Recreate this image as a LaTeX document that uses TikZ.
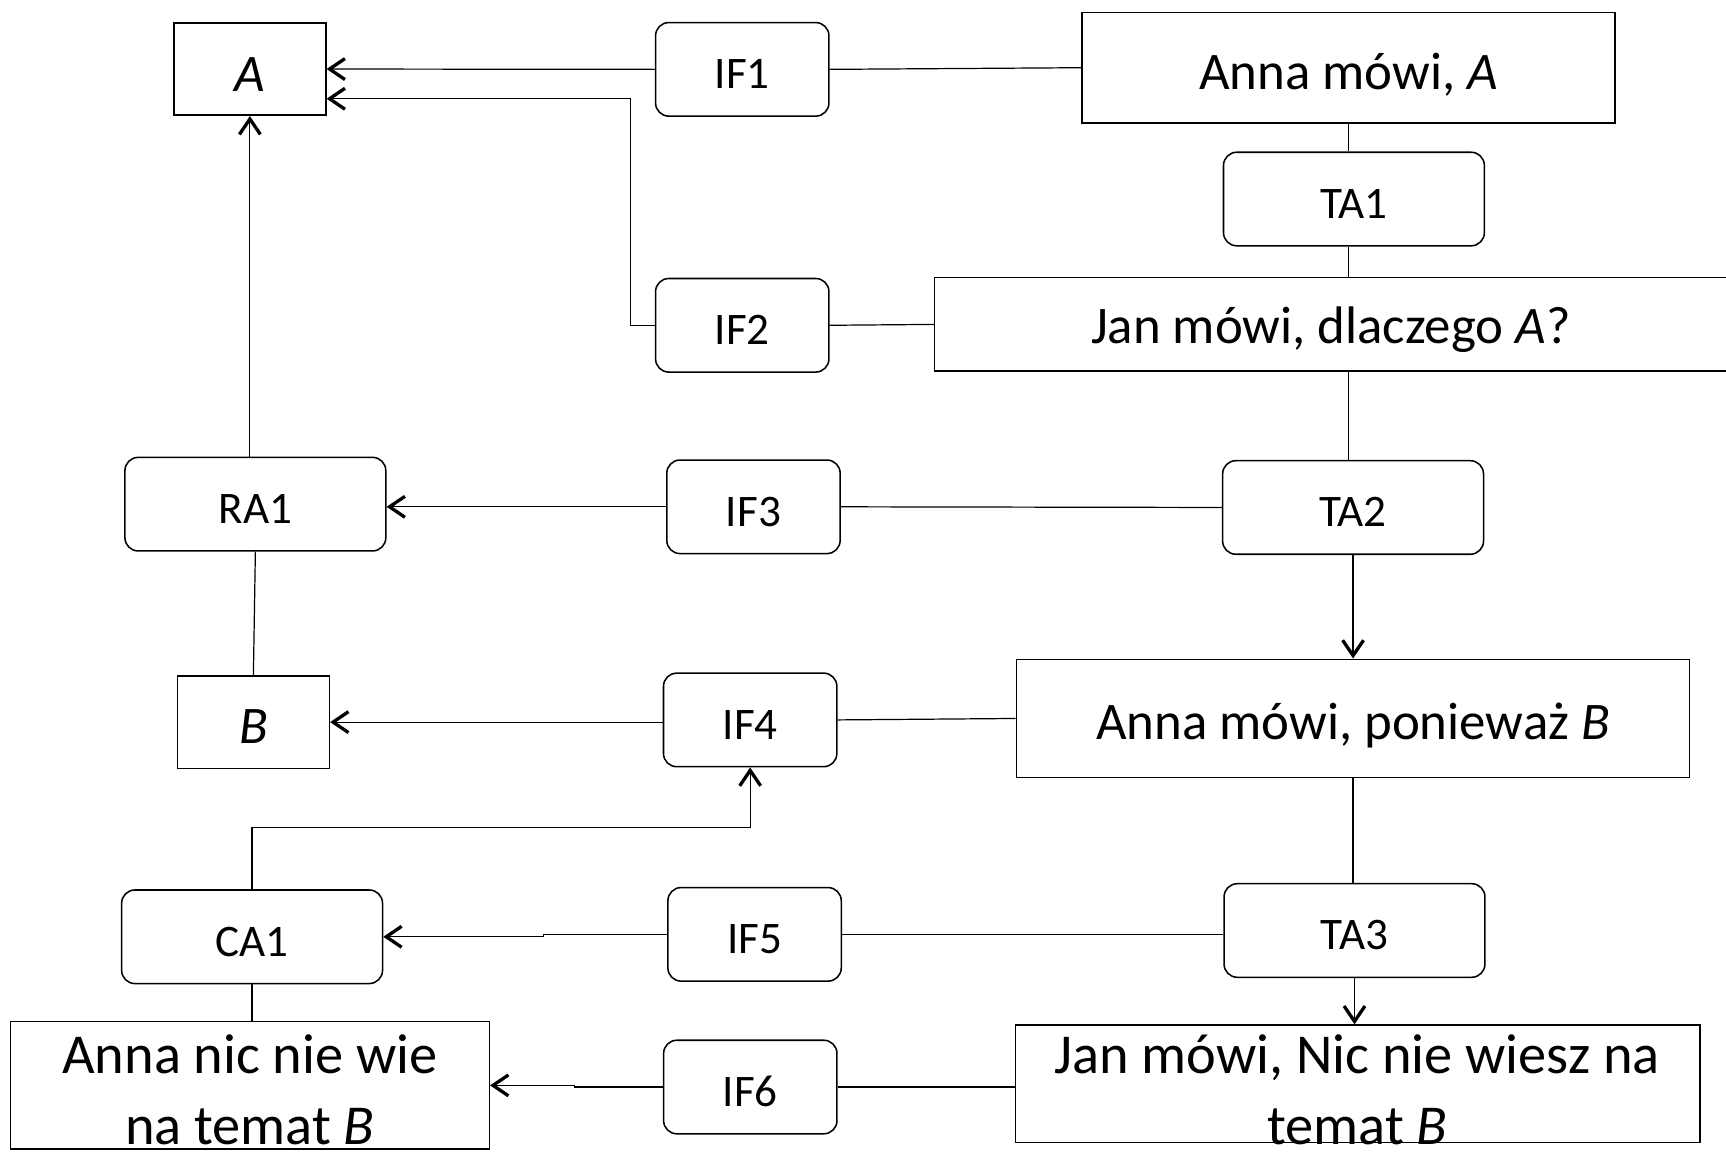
\documentclass[tikz,border=0pt]{standalone}
\usepackage{fontspec}
\setmainfont{Carlito}
\usetikzlibrary{arrows.meta,calc}
\begin{document}
\begin{tikzpicture}[x=0.5pt,y=-0.5pt,
  bigbox/.style={draw, line width=0.7pt, inner sep=0pt, text height=19.5pt, text depth=0pt, font=\fontsize{24}{32.5}\selectfont},
  rbox/.style={draw, line width=0.7pt, rounded corners=6pt, inner sep=0pt, text height=17.5pt, text depth=0pt, font=\fontsize{20.5}{24}\selectfont},
  ifbox/.style={rbox, minimum width=78.75pt, minimum height=42.5pt},
  tabox/.style={rbox, minimum width=118.5pt, minimum height=42.5pt},
  conn/.style={line width=0.55pt},
  arr/.style={conn, -{Straight Barb[length=7pt,width=9.5pt,line width=1.5pt]}},
  bigtext/.style={anchor=base, inner sep=0pt, font=\fontsize{25.6}{32.5}\selectfont},
]
\useasboundingbox (0,0) rectangle (1568,1046);

% left column
\node[bigbox, minimum width=69pt, minimum height=42pt, text height=20pt] (A) at (227,62.7) {\textit{A}};
\node[tabox] (RA1) at (232,458) {RA1};
\node[bigbox, minimum width=69pt, minimum height=42pt, text height=19pt] (B) at (230.2,656) {\textit{B}};
\node[tabox] (CA1) at (229,851) {CA1};
\node[draw, line width=0.7pt, inner sep=0pt, minimum width=217.5pt, minimum height=58pt] (annanic) at (227,986) {};
\node[bigtext] (annanicT) at (227,975) {\begin{tabular}[t]{@{}c@{}}Anna nic nie wie\\na temat \textit{B}\end{tabular}};

% middle column
\node[ifbox] (IF1) at (674.3,63) {IF1};
\node[ifbox] (IF2) at (674.3,295.5) {IF2};
\node[ifbox] (IF3) at (684.5,460.4) {IF3};
\node[ifbox] (IF4) at (681.5,654) {IF4};
\node[ifbox] (IF5) at (685.5,848.8) {IF5};
\node[ifbox] (IF6) at (681.6,987.5) {IF6};

% right column
\node[bigbox, minimum width=242pt, minimum height=50pt] (annaA) at (1225,61.5) {Anna mówi, \textit{A}};
\node[tabox] (TA1) at (1230,180.8) {TA1};
\node[bigbox, minimum width=360pt, minimum height=42.5pt, text height=17.3pt] (jandl) at (1209,294.7) {Jan mówi, dlaczego \textit{A}?};
\node[tabox] (TA2) at (1229.2,461) {TA2};
\node[bigbox, minimum width=305.8pt, minimum height=53.75pt] (anpon) at (1229.2,652.7) {Anna mówi, ponieważ \textit{B}};
\node[tabox] (TA3) at (1230.5,845.3) {TA3};
\node[draw, line width=0.7pt, inner sep=0pt, minimum width=311pt, minimum height=53.25pt] (jannic) at (1233.5,984.5) {};
\node[bigtext] (jannicT) at (1233,975) {\begin{tabular}[t]{@{}c@{}}Jan mówi, Nic nie wiesz na\\temat \textit{B}\end{tabular}};

% connectors
\draw[arr] (IF1.west) -- (A.east);
\draw[conn] (IF1.east) -- (annaA.west);
\draw[arr] (IF2.west) -- ++(-22,0) |- ($(A.east)+(0,27)$);
\draw[conn] (IF2.east) -- (jandl.west);
\draw[conn] (annaA.south) -- (annaA.south |- TA1.north);
\draw[conn] (annaA.south |- TA1.south) -- (annaA.south |- jandl.north);
\draw[conn] (annaA.south |- jandl.south) -- (annaA.south |- TA2.north);
\draw[arr] (IF3.west) -- (IF3.west -| RA1.east);
\draw[conn] (IF3.east) -- (TA2.west);
\draw[arr] (RA1.north -| A.south) -- (A.south);
\draw[conn] (RA1.south) -- (B.north);
\draw[arr] (TA2.south) -- (anpon.north);
\draw[arr] (IF4.west |- B.east) -- (B.east);
\draw[conn] (anpon.west) -- (IF4.east);
\draw[arr] (CA1.north) -- ++(0,-56) -| (IF4.south);
\draw[conn] (anpon.south) -- (anpon.south |- TA3.north);
\draw[arr] (TA3.south) -- (TA3.south |- jannic.north);
\draw[arr] (IF5.west) -- ++(-112,0) |- (CA1.east);
\draw[conn] (IF5.east) -- (IF5.east -| TA3.west);
\draw[conn] (CA1.south) -- (CA1.south |- annanic.north);
\draw[arr] (IF6.west) -- ++(-80,0) |- (annanic.east);
\draw[conn] (IF6.east) -- (IF6.east -| jannic.west);
\end{tikzpicture}
\end{document}
